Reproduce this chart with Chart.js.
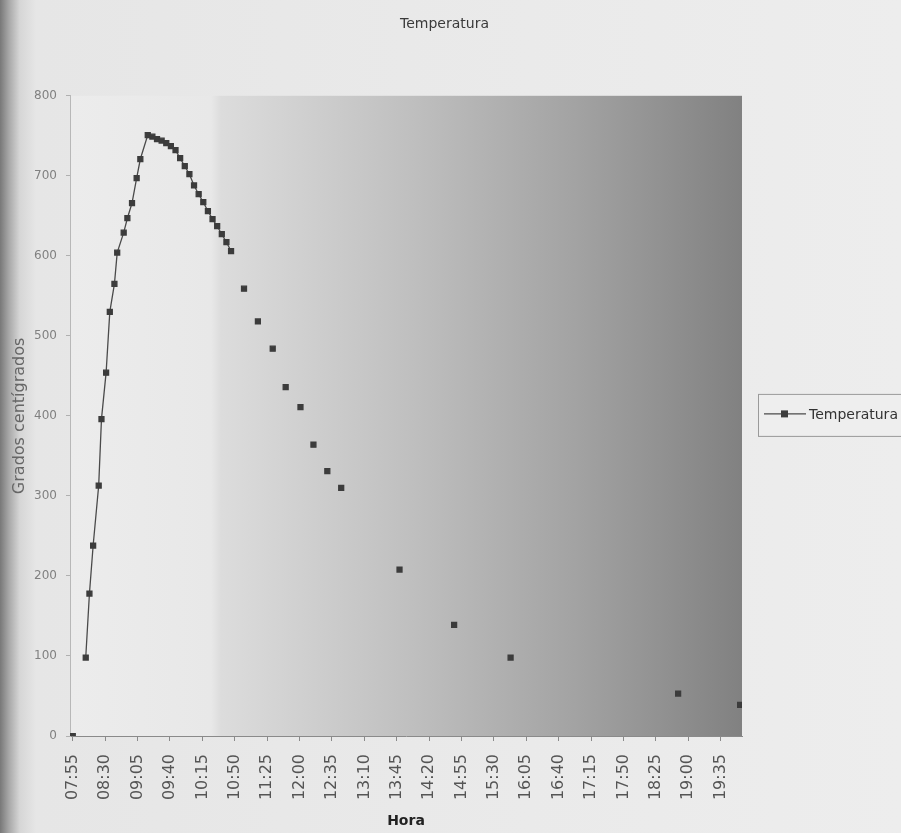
<!DOCTYPE html>
<html>
<head>
<meta charset="utf-8">
<title>Temperatura</title>
<script src="https://cdn.jsdelivr.net/npm/chart.js@4.4.1/dist/chart.umd.min.js"></script>
<style>
  body { margin: 0; background: #e9e9e9; }
  canvas { display: block; }
</style>
</head>
<body>
<canvas id="myChart" width="901" height="833"></canvas>
<script>
// horas de lectura y temperatura (grados centigrados)
const horas = ['07:55','08:09','08:13','08:17','08:23','08:26','08:31','08:35','08:40','08:43',
  '08:50','08:54','08:59','09:04','09:08','09:16','09:21','09:26','09:31','09:36',
  '09:41','09:46','09:51','09:56','10:01','10:06','10:11','10:16','10:21','10:26',
  '10:31','10:36','10:41','10:46','11:00','11:15','11:31','11:45','12:01','12:15',
  '12:30','12:45','13:48','14:47','15:48','18:49','19:56'];
const temperatura = [0, 98, 178, 238, 313, 396, 454, 530, 565, 604,
  629, 647, 666, 697, 721, 751, 749, 746, 744, 741,
  737, 732, 722, 712, 702, 688, 677, 667, 656, 646,
  637, 627, 617, 606, 559, 518, 484, 436, 411, 364,
  331, 310, 208, 139, 98, 53, 39];
const marcasHora = ['07:55','08:30','09:05','09:40','10:15','10:50','11:25','12:00','12:35','13:10',
  '13:45','14:20','14:55','15:30','16:05','16:40','17:15','17:50','18:25','19:00','19:35'];

function aMinutos(h) {
  const p = h.split(':');
  return Number(p[0]) * 60 + Number(p[1]);
}

const puntos = horas.map((h, i) => ({ x: aMinutos(h), y: temperatura[i] }));

const fondo = {
  id: 'fondo',
  beforeDraw(chart) {
    const ctx = chart.ctx;
    const a = chart.chartArea;
    ctx.save();
    let g = ctx.createLinearGradient(0, 0, chart.width, 0);
    g.addColorStop(0, '#787878');
    g.addColorStop(0.01, '#a8a8a8');
    g.addColorStop(0.022, '#d6d6d6');
    g.addColorStop(0.04, '#e6e6e6');
    g.addColorStop(1, '#ededed');
    ctx.fillStyle = g;
    ctx.fillRect(0, 0, chart.width, chart.height);
    g = ctx.createLinearGradient(a.left, 0, a.right, 0);
    g.addColorStop(0, '#ececec');
    g.addColorStop(0.21, '#e8e8e8');
    g.addColorStop(0.225, '#dcdcdc');
    g.addColorStop(0.5, '#c0c0c0');
    g.addColorStop(0.75, '#a3a3a3');
    g.addColorStop(1, '#818181');
    ctx.fillStyle = g;
    ctx.fillRect(a.left, a.top, a.right - a.left, a.bottom - a.top);
    ctx.restore();
  }
};

const leyenda = {
  id: 'leyenda',
  afterDraw(chart) {
    const ctx = chart.ctx;
    const a = chart.chartArea;
    const ds = chart.data.datasets[0];
    const x = a.right + 16;
    const y = (a.top + a.bottom) / 2 - 2;
    ctx.save();
    ctx.fillStyle = '#eeeeee';
    ctx.fillRect(x, y - 20, 160, 42);
    ctx.strokeStyle = '#9a9a9a';
    ctx.lineWidth = 1;
    ctx.strokeRect(x + 0.5, y - 19.5, 160, 42);
    ctx.strokeStyle = ds.borderColor;
    ctx.lineWidth = 1.4;
    ctx.beginPath();
    ctx.moveTo(x + 6, y);
    ctx.lineTo(x + 48, y);
    ctx.stroke();
    ctx.fillStyle = ds.pointBackgroundColor;
    ctx.fillRect(x + 23, y - 3.5, 7, 7);
    ctx.fillStyle = '#333333';
    ctx.font = '14px "DejaVu Sans"';
    ctx.textBaseline = 'middle';
    ctx.fillText(ds.label, x + 51, y + 1);
    ctx.restore();
  }
};

Chart.defaults.font.family = '"DejaVu Sans", sans-serif';

new Chart('myChart', {
  type: 'line',
  data: {
    datasets: [{
      label: 'Temperatura',
      data: puntos,
      yAxisID: 'y',
      borderColor: '#4a4a4a',
      borderWidth: 1.3,
      pointBackgroundColor: '#3c3c3c',
      pointBorderColor: '#3c3c3c',
      pointStyle: 'rect',
      pointRadius: 3.5,
      tension: 0,
      segment: {
        borderColor: ctx => (ctx.p1.parsed.x - ctx.p0.parsed.x > 10 ? 'rgba(0,0,0,0)' : '#4a4a4a')
      }
    }]
  },
  options: {
    responsive: false,
    animation: false,
    layout: { padding: { left: 0, right: 12, top: 0, bottom: 0 } },
    plugins: {
      legend: { display: false },
      tooltip: { enabled: false },
      title: {
        display: true,
        text: 'Temperatura',
        color: '#3a3a3a',
        font: { size: 14, weight: 'normal' },
        padding: { top: 16, bottom: 63 }
      }
    },
    scales: {
      x: {
        type: 'linear',
        min: 472,
        max: 1198,
        afterFit: s => { s.height = 97; },
        afterBuildTicks: s => { s.ticks = marcasHora.map(h => ({ value: aMinutos(h) })); },
        grid: { display: true, drawOnChartArea: false, tickLength: 5, color: '#8a8a8a' },
        border: { color: '#8a8a8a' },
        ticks: {
          autoSkip: false,
          minRotation: 90,
          maxRotation: 90,
          padding: 13,
          color: '#555555',
          font: { size: 16 },
          callback: (v, i) => marcasHora[i]
        },
        title: {
          display: true,
          text: 'Hora',
          color: '#222222',
          font: { size: 14, weight: 'bold' },
          padding: { top: 3, bottom: 3 }
        }
      },
      y: {
        min: 0,
        max: 800,
        afterFit: s => { s.width = 70; },
        grid: { display: true, drawOnChartArea: false, tickLength: 4, color: '#b0b0b0' },
        border: { color: '#b8b8b8' },
        ticks: { stepSize: 100, padding: 9, color: '#808080', font: { size: 12 } },
        title: {
          display: true,
          text: 'Grados centígrados',
          color: '#666666',
          font: { size: 16 },
          padding: { top: 10, bottom: 0 }
        }
      },
      // espacio reservado para la leyenda a la derecha
      hueco: {
        position: 'right',
        afterFit: s => { s.width = 147; },
        grid: { display: false },
        border: { display: false },
        ticks: { display: false }
      }
    }
  },
  plugins: [fondo, leyenda]
});
</script>
</body>
</html>
